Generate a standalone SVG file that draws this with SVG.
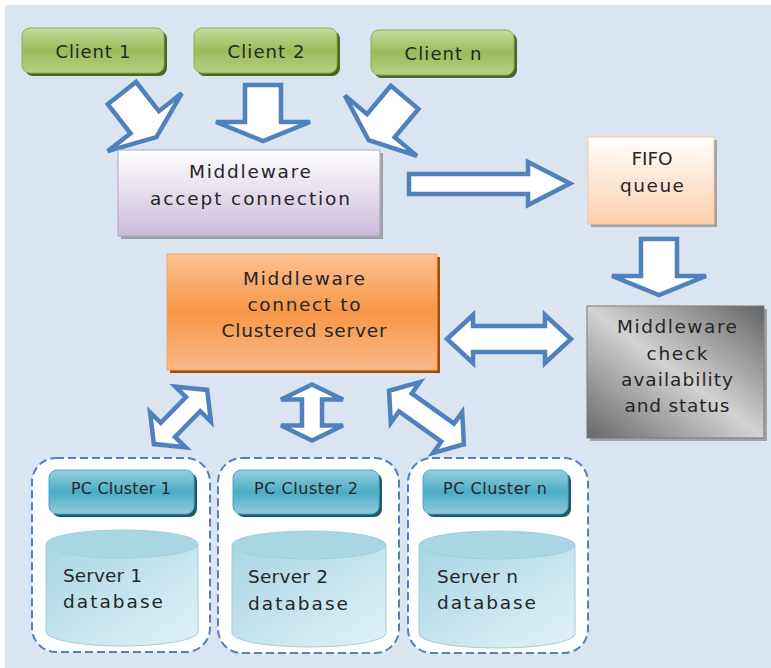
<svg xmlns="http://www.w3.org/2000/svg" width="771" height="668" viewBox="0 0 771 668">
<defs>
<linearGradient id="gGreen" x1="0" y1="0" x2="0" y2="1"><stop offset="0" stop-color="#c6da9f"/><stop offset="0.5" stop-color="#9bbb59"/><stop offset="1" stop-color="#b6cf84"/></linearGradient>
<linearGradient id="gTeal" x1="0" y1="0" x2="0" y2="1"><stop offset="0" stop-color="#95cfde"/><stop offset="0.5" stop-color="#4bacc6"/><stop offset="1" stop-color="#8fcbdb"/></linearGradient>
<linearGradient id="gOrange" x1="0" y1="0" x2="0" y2="1"><stop offset="0" stop-color="#fbc294"/><stop offset="0.5" stop-color="#f79646"/><stop offset="1" stop-color="#fab988"/></linearGradient>
<linearGradient id="gLav" x1="0" y1="0" x2="0" y2="1"><stop offset="0" stop-color="#ffffff"/><stop offset="1" stop-color="#cbbbd8"/></linearGradient>
<linearGradient id="gPeach" x1="0" y1="0" x2="0" y2="1"><stop offset="0" stop-color="#ffffff"/><stop offset="1" stop-color="#fbcfac"/></linearGradient>
<linearGradient id="gGrey" x1="0" y1="1" x2="1" y2="0"><stop offset="0" stop-color="#676767"/><stop offset="0.5" stop-color="#d2d2d2"/><stop offset="1" stop-color="#646464"/></linearGradient>
<linearGradient id="gCyl" x1="0" y1="0" x2="1" y2="1"><stop offset="0" stop-color="#a6d6e2"/><stop offset="1" stop-color="#e2f2f6"/></linearGradient>
<polygon id="arrowDown" points="-18,-57 18,-57 18,-20 47,-20 0,-1 -47,-20 -18,-20"/>
</defs>
<style>
.t{font-family:"DejaVu Sans","Liberation Sans",sans-serif;fill:#262626;text-anchor:middle}
.tl{font-family:"DejaVu Sans","Liberation Sans",sans-serif;fill:#262626;text-anchor:start}
.c{font-size:18px}
.m{font-size:18.5px}
.p{font-size:16px}
.arr{fill:#ffffff;stroke:#4f81bd;stroke-width:4.5;stroke-linejoin:miter}
.cont{fill:#ffffff;stroke:#4f81bd;stroke-width:2;stroke-dasharray:8 4}
.shG{fill:#4f6228}
.shT{fill:#215968}
.shS{fill:#8c8c8c;opacity:0.75}
</style>
<rect x="0" y="0" width="771" height="668" fill="#ffffff"/>
<rect x="5" y="5" width="766" height="663" fill="#dbe5f1"/>

<g id="connectors">
<use href="#arrowDown" class="arr" transform="translate(157,138) rotate(-38)"/>
<use href="#arrowDown" class="arr" transform="translate(263,142)"/>
<use href="#arrowDown" class="arr" transform="translate(368,141) rotate(40)"/>
<use href="#arrowDown" class="arr" transform="translate(659,296)"/>
<polygon class="arr" points="409,174 528,174 528,162 570,183.5 528,205 528,194 409,194"/>
<polygon class="arr" transform="translate(509,339)" points="-62,0 -36,-24 -36,-13 36,-13 36,-24 62,0 36,24 36,13 -36,13 -36,24"/>
<polygon class="arr" transform="translate(312,412.5) rotate(90)" points="-28,0 -13,-31 -13,-10 13,-10 13,-31 28,0 13,31 13,10 -13,10 -13,31"/>
<polygon class="arr" transform="translate(180.5,417) rotate(-45.5)" points="-38,0 -18,-25 -18,-10 18,-10 18,-25 38,0 18,25 18,10 -18,10 -18,25"/>
<polygon class="arr" transform="translate(426.5,417.5) rotate(35.5)" points="-46,0 -26,-25 -26,-11 26,-11 26,-25 46,0 26,25 26,11 -26,11 -26,25"/>
</g>

<g id="client1">
<rect x="25" y="31" width="142" height="45" rx="8" class="shG"/>
<rect x="22" y="28" width="142" height="45" rx="8" fill="url(#gGreen)" stroke="#8fb04d" stroke-width="1"/>
<text class="t c" x="93" y="58" textLength="75">Client 1</text>
</g>
<g id="client2">
<rect x="197" y="31" width="143" height="45" rx="8" class="shG"/>
<rect x="194" y="28" width="143" height="45" rx="8" fill="url(#gGreen)" stroke="#8fb04d" stroke-width="1"/>
<text class="t c" x="266" y="58" textLength="77">Client 2</text>
</g>
<g id="clientn">
<rect x="374" y="33" width="143" height="45" rx="8" class="shG"/>
<rect x="371" y="30" width="143" height="45" rx="8" fill="url(#gGreen)" stroke="#8fb04d" stroke-width="1"/>
<text class="t c" x="443" y="60" textLength="77">Client n</text>
</g>

<g id="accept">
<rect x="121" y="153" width="262" height="86" class="shS"/>
<rect x="118" y="150" width="262" height="86" fill="url(#gLav)" stroke="#b3a2c7" stroke-width="1"/>
<text class="t m" x="250" y="178" textLength="122">Middleware</text>
<text class="t m" x="250" y="205" textLength="200">accept connection</text>
</g>

<g id="fifo">
<rect x="591" y="140" width="126" height="87" class="shS"/>
<rect x="588" y="137" width="126" height="87" fill="url(#gPeach)" stroke="#f9c49a" stroke-width="1"/>
<text class="t m" x="652" y="165" textLength="41">FIFO</text>
<text class="t m" x="652" y="192" textLength="64">queue</text>
</g>

<g id="connect">
<rect x="170" y="257" width="270" height="116" fill="#9c4f0c"/>
<rect x="167" y="254" width="270" height="116" fill="url(#gOrange)" stroke="#f8a35e" stroke-width="1"/>
<text class="t m" x="304" y="285" textLength="122">Middleware</text>
<text class="t m" x="304" y="311" textLength="113">connect to</text>
<text class="t m" x="304" y="337" textLength="165">Clustered server</text>
</g>

<g id="check">
<rect x="590" y="309" width="177" height="132" class="shS"/>
<rect x="587" y="306" width="177" height="132" fill="url(#gGrey)" stroke="#7a7a7a" stroke-width="1"/>
<text class="t m" x="677" y="333" textLength="120">Middleware</text>
<text class="t m" x="677" y="360" textLength="61">check</text>
<text class="t m" x="677" y="386" textLength="112">availability</text>
<text class="t m" x="677" y="412" textLength="105">and status</text>
</g>

<g id="cluster1">
<rect x="32" y="458" width="178" height="194" rx="24" class="cont"/>
<rect x="52" y="473" width="145" height="44" rx="8" class="shT"/>
<rect x="49" y="470" width="145" height="44" rx="8" fill="url(#gTeal)" stroke="#4bacc6" stroke-width="1"/>
<text class="t p" x="121" y="494" textLength="100">PC Cluster 1</text>
<path d="M46,544 V632 A76,14 0 0 0 198,632 V544 Z" fill="url(#gCyl)" stroke="#9fcfdc" stroke-width="1"/>
<ellipse cx="122" cy="544" rx="76" ry="14" fill="#a8d6e2" stroke="#9fcfdc" stroke-width="1"/>
<text class="tl m" x="63" y="582" textLength="79">Server 1</text>
<text class="tl m" x="63" y="608" textLength="100">database</text>
</g>

<g id="cluster2">
<rect x="218" y="458" width="181" height="195" rx="24" class="cont"/>
<rect x="236" y="473" width="146" height="44" rx="8" class="shT"/>
<rect x="233" y="470" width="146" height="44" rx="8" fill="url(#gTeal)" stroke="#4bacc6" stroke-width="1"/>
<text class="t p" x="306" y="494" textLength="104">PC Cluster 2</text>
<path d="M232,545 V633 A77,14 0 0 0 386,633 V545 Z" fill="url(#gCyl)" stroke="#9fcfdc" stroke-width="1"/>
<ellipse cx="309" cy="545" rx="77" ry="14" fill="#a8d6e2" stroke="#9fcfdc" stroke-width="1"/>
<text class="tl m" x="248" y="583" textLength="80">Server 2</text>
<text class="tl m" x="248" y="610" textLength="100">database</text>
</g>

<g id="clustern">
<rect x="408" y="458" width="180" height="195" rx="24" class="cont"/>
<rect x="426" y="473" width="145" height="44" rx="8" class="shT"/>
<rect x="423" y="470" width="145" height="44" rx="8" fill="url(#gTeal)" stroke="#4bacc6" stroke-width="1"/>
<text class="t p" x="495" y="494" textLength="104">PC Cluster n</text>
<path d="M419,545 V634 A78,14 0 0 0 575,634 V545 Z" fill="url(#gCyl)" stroke="#9fcfdc" stroke-width="1"/>
<ellipse cx="497" cy="545" rx="78" ry="14" fill="#a8d6e2" stroke="#9fcfdc" stroke-width="1"/>
<text class="tl m" x="437" y="583" textLength="81">Server n</text>
<text class="tl m" x="437" y="609" textLength="99">database</text>
</g>
</svg>
